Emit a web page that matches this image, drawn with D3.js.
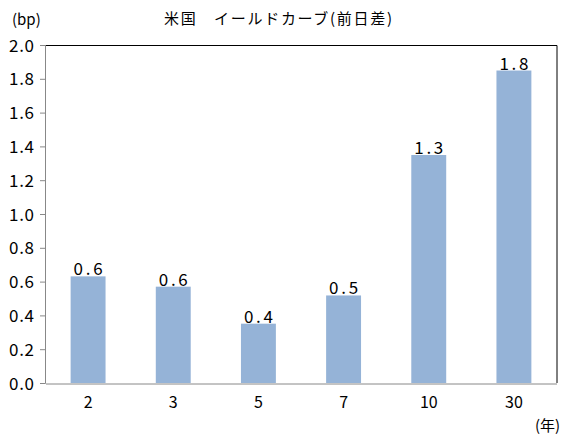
<!DOCTYPE html>
<html><head><meta charset="utf-8">
<script src="https://cdn.jsdelivr.net/npm/d3@7"></script>
<style>body{margin:0;background:#fff}svg{display:block}text{font-family:"Noto Sans CJK JP","Noto Sans",sans-serif;fill:#000}</style>
</head><body>
<script>
const categories = ["2","3","5","7","10","30"];
const values = [0.631, 0.570, 0.351, 0.518, 1.349, 1.849];
const valueLabels = ["0.6","0.6","0.4","0.5","1.3","1.8"];
const yTicks = [0,0.2,0.4,0.6,0.8,1.0,1.2,1.4,1.6,1.8,2.0];
const title = "米国　イールドカーブ(前日差)";
const yUnit = "(bp)";
const xUnit = "(年)";

const W = 570, H = 435;
const m = {left:45.5, right:13.5, top:45, bottom:52};
const svg = d3.select("body").append("svg").attr("width",W).attr("height",H);
const x = d3.scaleBand().domain(categories).range([m.left, W-m.right]).paddingInner(0.59).paddingOuter(0.295);
const y = d3.scaleLinear().domain([0,2]).range([H-m.bottom, m.top]);

// plot border (top/right black)
svg.append("path").attr("d",`M${m.left},${m.top+0.5}H${W-m.right+0.5}V${H-m.bottom}`)
  .attr("fill","none").attr("stroke","#000").attr("stroke-width",1);

svg.selectAll("rect.bar").data(values).enter().append("rect").attr("class","bar")
  .attr("x",(d,i)=>x(categories[i])).attr("width",x.bandwidth())
  .attr("y",d=>y(d)).attr("height",d=>y(0)-y(d)).attr("fill","#95b3d7");

svg.selectAll("text.vl").data(values).enter().append("text").attr("class","vl")
  .attr("x",(d,i)=>x(categories[i])+x.bandwidth()/2).attr("y",d=>y(d)-1)
  .attr("text-anchor","middle").attr("font-size",17)
  .attr("textLength",29).attr("lengthAdjust","spacing")
  .text((d,i)=>valueLabels[i]);

const yAxis = d3.axisLeft(y).tickValues(yTicks).tickFormat(d3.format(".1f")).tickSize(5).tickPadding(6);
const gy = svg.append("g").attr("transform",`translate(${m.left-0.5},0)`).call(yAxis);
gy.select(".domain").attr("stroke","#888");
gy.selectAll(".tick line").attr("stroke","#888");
gy.selectAll(".tick text").attr("font-size",17).attr("fill","#000").attr("dy","0.36em")
  .attr("textLength",25).attr("lengthAdjust","spacing");

const xAxis = d3.axisBottom(x).tickSize(0).tickPadding(13);
const gx = svg.append("g").attr("transform",`translate(0,${y(0)+0.5})`).call(xAxis);
gx.select(".domain").attr("stroke","#888");
gx.selectAll(".tick text").attr("font-size",16).attr("fill","#000");

svg.append("text").attr("x",164).attr("y",24).attr("font-size",15)
  .attr("textLength",228).attr("lengthAdjust","spacing").text(title);
svg.append("text").attr("x",12).attr("y",25).attr("font-size",15).text(yUnit);
svg.append("text").attr("x",535).attr("y",431).attr("font-size",15).text(xUnit);
</script>
</body></html>
